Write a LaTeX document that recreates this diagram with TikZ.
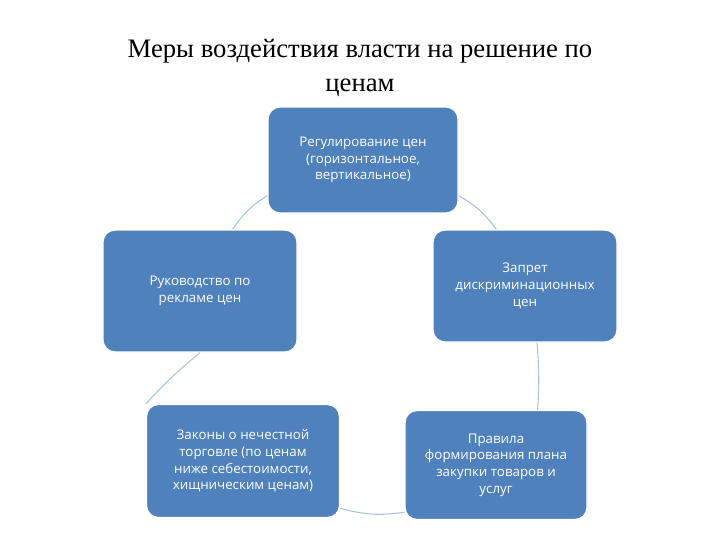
\documentclass[tikz,border=0pt]{standalone}
\usepackage{fontspec}
\setmainfont{Liberation Serif}
\newfontfamily\boxfont{Open Sans}
\definecolor{boxblue}{HTML}{4F81BD}
\definecolor{linkblue}{HTML}{A9C1DF}
\begin{document}
\begin{tikzpicture}[x=0.75pt,y=-0.75pt,
  blk/.style={fill=boxblue,draw=white,line width=1pt,rounded corners=9pt,text=white,
    font=\boxfont\fontsize{10}{12.5}\selectfont,align=center,inner sep=0pt},
  link/.style={draw=linkblue,line width=0.8pt}]
\useasboundingbox (0,0) rectangle (720,540);
\node[font=\fontsize{20}{26}\selectfont,align=center] (title) at (360,68) {Меры воздействия власти на решение по\\ценам};
\node[blk,minimum width=190*0.75pt,minimum height=106*0.75pt] (top) at (363,160) {Регулирование цен\\(горизонтальное,\\вертикальное)};
\node[blk,minimum width=194*0.75pt,minimum height=122*0.75pt] (left) at (200,291) {Руководство по\\рекламе цен};
\node[blk,minimum width=184*0.75pt,minimum height=112*0.75pt] (right) at (525,286) {Запрет\\дискриминационных\\цен};
\node[blk,minimum width=193*0.75pt,minimum height=113*0.75pt] (bl) at (243,461) {Законы о нечестной\\торговле (по ценам\\ниже себестоимости,\\хищническим ценам)};
\node[blk,minimum width=182*0.75pt,minimum height=109*0.75pt] (br) at (496,465) {Правила\\формирования плана\\закупки товаров и\\услуг};
\draw[link] (left.north east) ++(-65,0) coordinate (a1) (top.south west) ++(0,-18) coordinate (a2);
\draw[link] (a1) to[bend left=12] (a2);
\draw[link] (top.south east) ++(0,-18) coordinate (b1) (right.north west) ++(64,0) coordinate (b2);
\draw[link] (b1) to[bend left=12] (b2);
\draw[link] (left.south) to[bend right=4] (bl.north west |- bl.north) ;
\draw[link] (right.south) ++(12,0) coordinate (c1) (br.north east) ++(-50,0) coordinate (c2);
\draw[link] (c1) to[bend left=4] (c2);
\draw[link] (bl.south east) ++(0,-10) coordinate (d1) (br.south west) ++(0,-8) coordinate (d2);
\draw[link] (d1) to[bend right=12] (d2);
\end{tikzpicture}
\end{document}
